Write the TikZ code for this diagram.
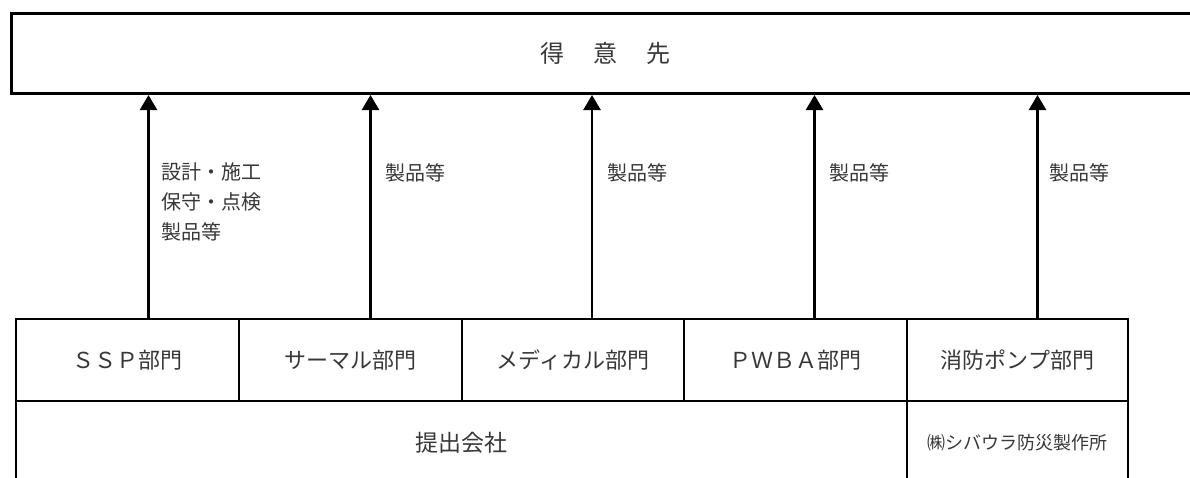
\documentclass[tikz,border=0pt]{standalone}
\usepackage{fontspec}
\setmainfont{Noto Sans CJK JP}
\usepackage{tikz}
\usetikzlibrary{arrows.meta}
\definecolor{inkgray}{RGB}{55,55,55}

\begin{document}
\begin{tikzpicture}[x=1pt, y=-1pt,
        box/.style={draw, line width=2pt, inner sep=0pt, anchor=north west,
            minimum height=82pt, text=inkgray, font=\fontsize{22pt}{26pt}\selectfont},
        upline/.style={line width=2.5pt, -{Triangle[width=17pt,length=15pt]}},
        lbl/.style={anchor=north west, inner sep=0pt, align=left, text=inkgray,
            font=\fontsize{20pt}{30pt}\selectfont}]
        \clip (0,0) rectangle (1190,477);
        % customer on top
        \node[box, line width=3pt, minimum width=1188pt, minimum height=80pt,
            font=\fontsize{24pt}{28pt}\selectfont] (tokui) at (10,12)
            {得\hspace{29pt}意\hspace{29pt}先};
        % divisions
        \node[box, minimum width=223pt] (ssp) at (15,318) {ＳＳＰ部門};
        \node[box, minimum width=223pt] (thermal) at (238,318) {サーマル部門};
        \node[box, minimum width=222pt] (medical) at (461,318) {メディカル部門};
        \node[box, minimum width=223pt] (pwba) at (683,318) {ＰＷＢＡ部門};
        \node[box, minimum width=221pt] (pump) at (906,318) {消防ポンプ部門};
        % companies
        \node[box, minimum width=891pt, minimum height=84pt,
            font=\fontsize{23pt}{27pt}\selectfont] (teishutsu) at (15,400) {提出会社};
        \node[box, minimum width=221pt, minimum height=84pt,
            font=\fontsize{18pt}{22pt}\selectfont] (shibaura) at (906,400) {㈱シバウラ防災製作所};
        % flows to the customer
        \draw[upline] ([xshift=21pt]ssp.north) -- ([xshift=21pt]ssp.north |- tokui.south)
            node[lbl, pos=0.7, xshift=12pt] (sspl) {設計・施工\\保守・点検\\製品等};
        \draw[upline] ([xshift=20pt]thermal.north) -- ([xshift=20pt]thermal.north |- tokui.south)
            node[lbl, pos=0.7, xshift=14pt] (thermall) {製品等};
        \draw[upline] ([xshift=19pt]medical.north) -- ([xshift=19pt]medical.north |- tokui.south)
            node[lbl, pos=0.7, xshift=14pt] (medicall) {製品等};
        \draw[upline] ([xshift=19pt]pwba.north) -- ([xshift=19pt]pwba.north |- tokui.south)
            node[lbl, pos=0.7, xshift=14pt] (pwbal) {製品等};
        \draw[upline] ([xshift=20pt]pump.north) -- ([xshift=20pt]pump.north |- tokui.south)
            node[lbl, pos=0.7, xshift=11pt] (pumpl) {製品等};
    \end{tikzpicture}
\end{document}
